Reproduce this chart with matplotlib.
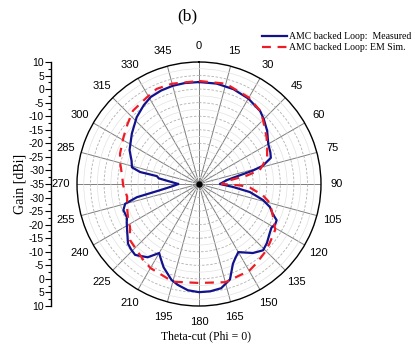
import numpy as np
import matplotlib
matplotlib.use('Agg')
import matplotlib.pyplot as plt

# values (angle in degrees, gain in dBi)
meas_theta = [0, 10, 20, 30, 40, 45, 52, 60, 66, 70, 74, 76, 78, 82, 90,
              95, 99, 104, 108, 112, 115, 118, 121, 125, 131, 136, 142, 146,
              150, 154, 157, 162, 168, 174, 180, 186, 192, 196, 203, 207, 210,
              215, 222, 226, 230, 237, 242, 245, 251, 255, 258, 261, 265, 270,
              275, 278, 280.6, 281.5, 284, 289, 296, 307, 317, 325, 331, 338,
              345, 352, 360]
meas_gain = [2.6, 2.6, 2.2, 1.4, 0.1, -1.2, -3.1, -5.5, -6.2, -6.8, -10.5,
             -14.5, -19.6, -24.6, -27.3, -22.4, -16.0, -10.7, -7.5, -5.7,
             -3.4, -3.2, -3.8, -3.2, -1.8, -1.0, -2.7, -4.5, -6.0, -4.5, -3.0,
             2.0, 4.3, 4.8, 4.9, 4.4, 3.0, 1.8, -1.6, -4.0, -5.6, -2.0, 0.2,
             -0.2, -0.8, -3.4, -4.8, -5.7, -5.5, -6.8, -11.6, -20.5, -25.0,
             -27.4, -24.0, -20.0, -19.2, -12.8, -9.5, -8.7, -6.5, -4.0, -1.3,
             0.5, 1.7, 2.2, 2.5, 2.6, 2.6]

sim_theta = [0, 15, 30, 40, 45, 55, 62, 69, 77, 80, 83, 90, 92, 94, 100, 105,
             114, 121, 130, 136, 144, 150, 165, 180, 195, 210, 216, 231, 238,
             245, 252, 260, 269, 275, 285, 291, 302, 310, 318, 329, 336, 345,
             360]
sim_gain = [3.0, 3.3, 1.8, 0.2, -1.6, -4.6, -6.5, -8.1, -12.0, -17.0, -23.5,
            -26.6, -19.9, -16.2, -11.1, -7.9, -5.1, -2.2, -1.0, 0.0, 1.1, 2.0,
            2.5, 1.5, 2.3, 0.8, -0.2, -2.2, -5.0, -6.1, -7.1, -8.1, -7.0,
            -6.6, -4.9, -3.8, -2.2, -0.6, 1.4, 2.3, 3.4, 3.3, 3.0]

angle_ticks = list(range(0, 360, 15))
r_min, r_max = -35, 10

serif = ['Liberation Serif', 'DejaVu Serif']
sans = ['Liberation Sans', 'DejaVu Sans']

fig = plt.figure(figsize=(4.15, 3.47), dpi=100)

# polar plot
ax = fig.add_axes([77 / 415, 1 - 306 / 347, 244 / 415, 244 / 347], projection='polar')
ax.set_theta_zero_location('N')
ax.set_theta_direction(-1)
ax.set_rlim(r_min, r_max)

ax.plot(np.radians(meas_theta), meas_gain, color='#12128c', linewidth=1.6,
        label='AMC backed Loop:  Measured', zorder=4)
ax.plot(np.radians(sim_theta), sim_gain, color='#ee1c25', linewidth=1.6,
        linestyle=(0, (4, 3)), label='AMC backed Loop: EM Sim.', zorder=5)

ax.set_thetagrids(angle_ticks, [str(a) for a in angle_ticks],
                  fontsize=8, family=sans)
ax.tick_params(axis='x', pad=1)
ax.xaxis.grid(True, color='#7f7f7f', linestyle='-', linewidth=0.7)
ax.set_yticks(np.arange(-30, 10, 5))
ax.set_yticks(np.arange(-32.5, 10, 5), minor=True)
ax.set_yticklabels([])
ax.yaxis.grid(True, which='major', color='#b0b0b0', linestyle=(0, (3, 2)), linewidth=0.6)
ax.yaxis.grid(True, which='minor', color='#e2e2e2', linestyle='-', linewidth=0.5)
ax.tick_params(axis='y', which='both', length=0)
ax.spines['polar'].set_linewidth(1.0)
ax.plot(0, r_min, 'o', color='black', markersize=3.5, zorder=6)

# left linear gain scale (10 .. -35 .. 10)
lax = fig.add_axes([51 / 415, 1 - 306 / 347, 0.001, 244 / 347])
lax.set_ylim(-45, 45)
for s in ['top', 'right', 'bottom']:
    lax.spines[s].set_visible(False)
lax.spines['left'].set_linewidth(1.0)
lax.set_xticks([])
major = np.arange(-45, 46, 5)
lax.set_yticks(major)
lax.set_yticklabels([str(int(r_min + abs(u))) for u in major], family=sans, fontsize=7.5)
lax.set_yticks(np.arange(-42.5, 45, 5), minor=True)
lax.tick_params(axis='y', which='major', direction='out', length=4, width=0.8, pad=1)
lax.tick_params(axis='y', which='minor', direction='out', length=2.2, width=0.8)
lax.patch.set_alpha(0)

fig.text(20 / 415, 1 - 184 / 347, 'Gain [dBi]', rotation=90, ha='center', va='center',
         family=serif, fontsize=10)
fig.text(187 / 415, 1 - 16 / 347, '(b)', ha='center', va='center', family=serif, fontsize=12.5)
fig.text(206 / 415, 1 - 336 / 347, 'Theta-cut (Phi = 0)', ha='center', va='center',
         family=serif, fontsize=8.5)

fig.legend(handles=ax.get_lines()[:2], loc='upper left',
           bbox_to_anchor=(262 / 415, 1 - 32 / 347), frameon=False,
           prop={'family': serif, 'size': 7}, handlelength=2.6, handletextpad=0.2,
           labelspacing=0.25, borderaxespad=0, borderpad=0)

fig.savefig('out.png', dpi=100)
